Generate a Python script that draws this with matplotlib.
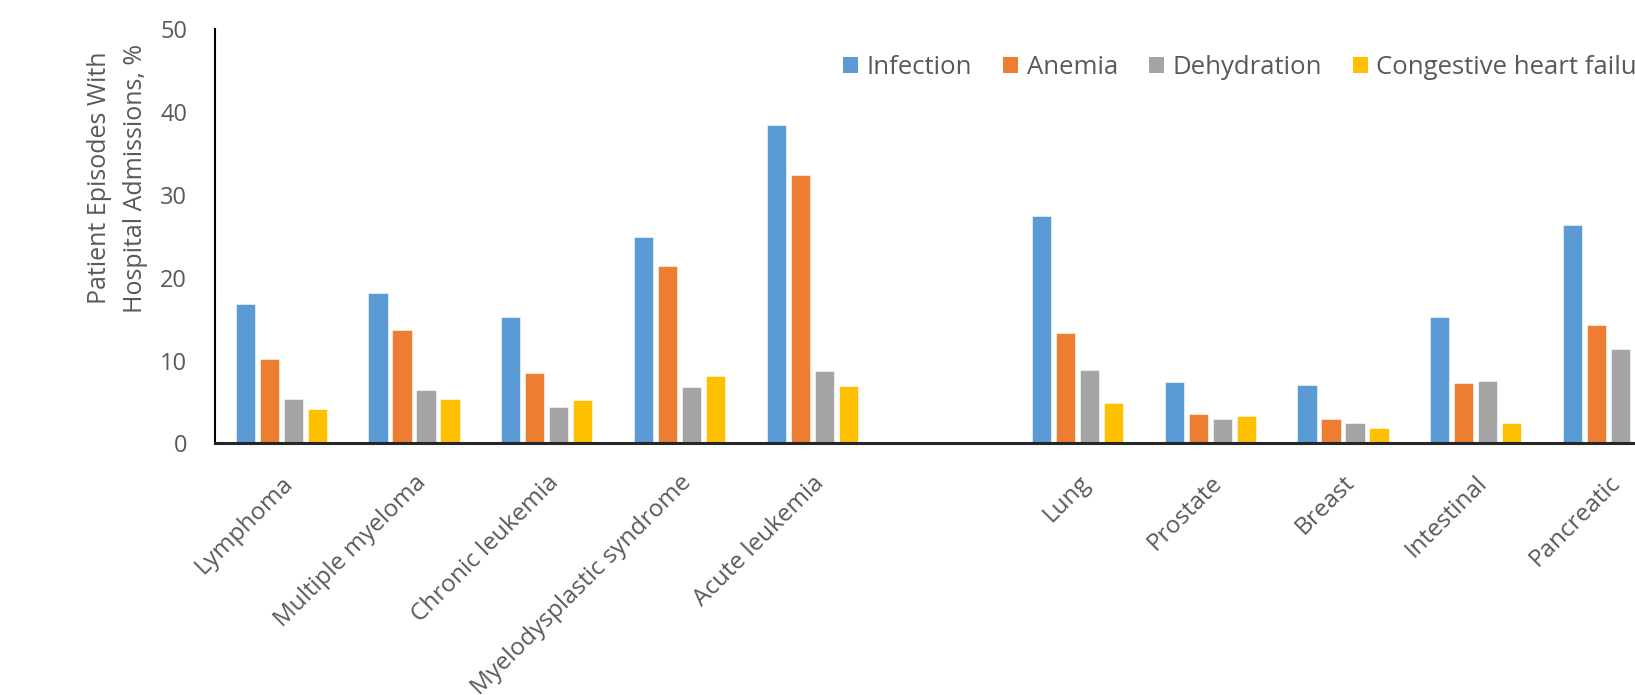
import numpy as np
import matplotlib
matplotlib.use("Agg")
import matplotlib.pyplot as plt
from matplotlib.patches import Patch

plt.rcParams['font.family'] = ['Open Sans', 'DejaVu Sans']

categories = ['Lymphoma', 'Multiple myeloma', 'Chronic leukemia',
              'Myelodysplastic syndrome', 'Acute leukemia', '',
              'Lung', 'Prostate', 'Breast', 'Intestinal', 'Pancreatic']
series = ['Infection', 'Anemia', 'Dehydration', 'Congestive heart failure']

infection = [16.8, 18.1, 15.3, 24.9, 38.5, np.nan, 27.5, 7.4, 7.05, 15.2, 26.4]
anemia = [10.2, 13.7, 8.5, 21.4, 32.4, np.nan, 13.3, 3.5, 2.9, 7.3, 14.3]
dehydration = [5.4, 6.4, 4.4, 6.8, 8.7, np.nan, 8.9, 2.9, 2.4, 7.5, 11.4]
chf = [4.1, 5.4, 5.2, 8.1, 6.9, np.nan, 4.9, 3.3, 1.8, 2.4, np.nan]

colors = ['#5B9BD5', '#ED7D31', '#A5A5A5', '#FFC000']
text_col = '#595959'

fig = plt.figure(figsize=(16.35, 6.95), dpi=100)
ax = fig.add_axes([0.1315, 0.3622, 0.8928, 0.5954])

x = np.arange(len(categories))
pitch = 0.181
width = 0.145
for j, vals in enumerate([infection, anemia, dehydration, chf]):
    ax.bar(x + (j - 1.5) * pitch, vals, width, color=colors[j],
           edgecolor='white', linewidth=0.4, label=series[j])

ax.set_xlim(-0.5, len(categories) - 0.5)
ax.set_ylim(0, 50)
ax.set_yticks(range(0, 51, 10))
ax.set_xticks(x)
ax.set_xticklabels(categories, rotation=45, ha='right', va='top',
                   rotation_mode='anchor', fontsize=17.5, color=text_col)
ax.tick_params(axis='x', length=0, pad=20)
ax.tick_params(axis='y', length=0, pad=20, labelsize=17, labelcolor=text_col)

for s in ['top', 'right']:
    ax.spines[s].set_visible(False)
ax.spines['left'].set_color('black')
ax.spines['left'].set_linewidth(1.5)
ax.spines['bottom'].set_color('#262626')
ax.spines['bottom'].set_linewidth(2.2)

ax.set_ylabel('Patient Episodes With\nHospital Admissions, %', fontsize=18,
              color=text_col, linespacing=1.55)
ax.yaxis.set_label_coords(-0.0462, 0.641)

handles = [Patch(facecolor=c) for c in colors]
fig.legend(handles, series, loc='center left', bbox_to_anchor=(843 / 1635, 1 - 67.5 / 695),
           ncol=4, frameon=False, fontsize=18.5, handlelength=0.6, handleheight=0.6,
           handletextpad=0.32, columnspacing=1.2, borderpad=0, borderaxespad=0,
           labelcolor=text_col)

fig.savefig('out.png', dpi=100)
